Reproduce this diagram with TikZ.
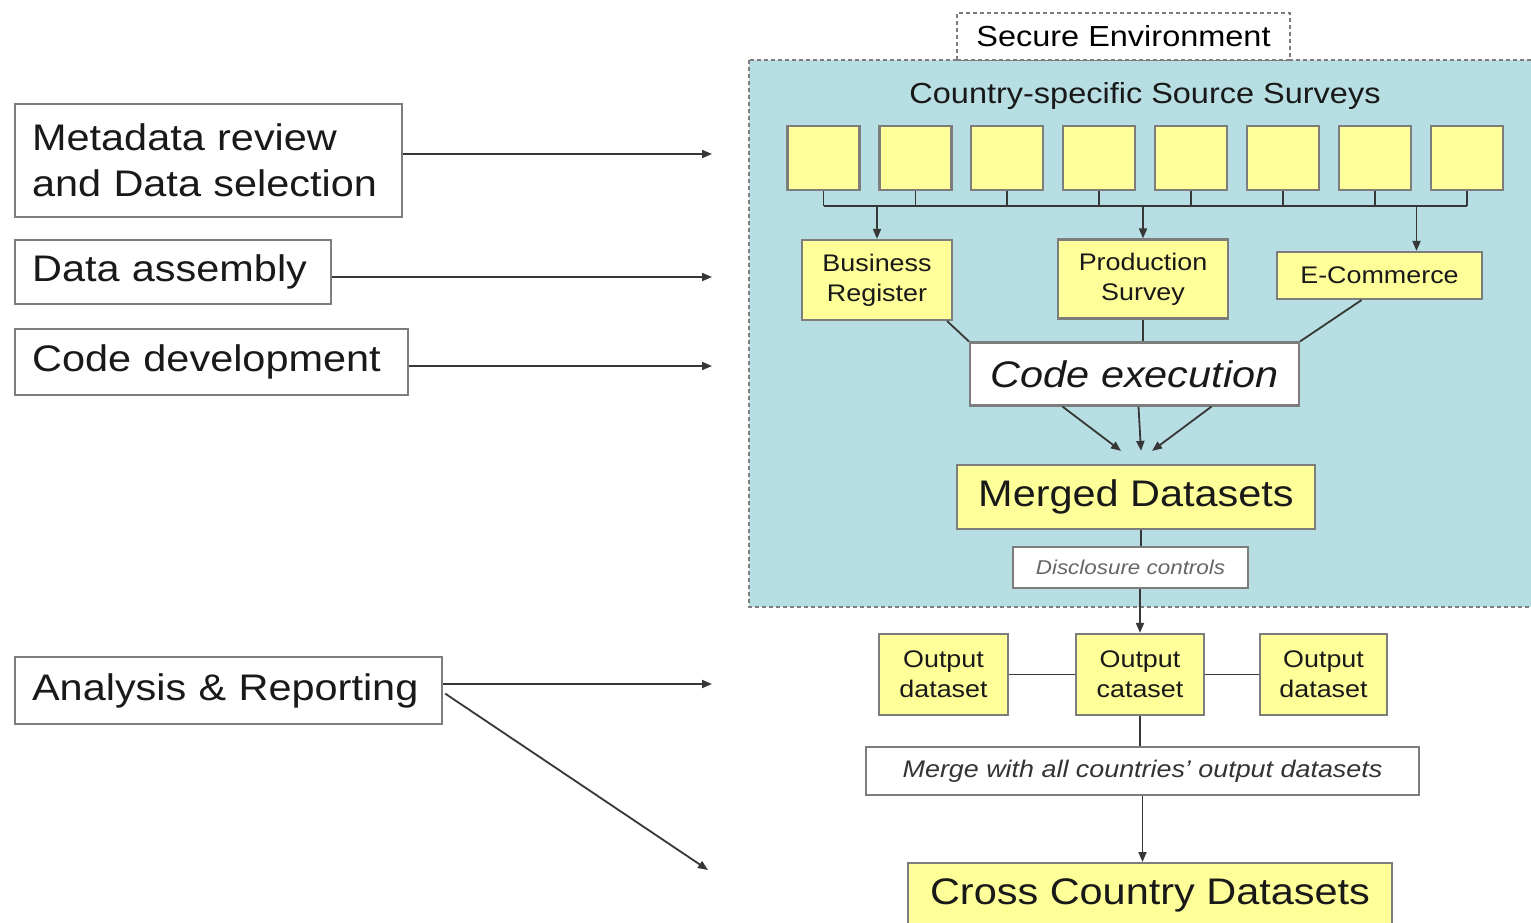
\documentclass[tikz,border=0pt]{standalone}
\usepackage{fontspec}
\setmainfont{Liberation Sans}[FakeStretch=1.12]
\usetikzlibrary{calc,arrows.meta}
\definecolor{envteal}{RGB}{183,222,226}
\definecolor{boxyellow}{RGB}{255,255,153}
\definecolor{boxgray}{RGB}{125,125,125}
\definecolor{wiregray}{RGB}{55,55,55}
\definecolor{txtdark}{RGB}{25,25,25}
\newcommand\sizeL{\fontsize{37}{46}\selectfont}
\newcommand\sizeT{\fontsize{29}{34}\selectfont}
\newcommand\sizeM{\fontsize{24}{30}\selectfont}
\newcommand\sizeS{\fontsize{20}{24}\selectfont}
\tikzset{
	phasebox/.style={draw=boxgray, line width=2.2pt, fill=white, anchor=north west, inner xsep=17pt, align=left, text=txtdark, font=\sizeL},
	srcbox/.style={draw=boxgray, line width=2.2pt, fill=boxyellow, minimum width=72pt, minimum height=64pt},
	yelbox/.style={draw=boxgray, line width=2.2pt, fill=boxyellow, inner sep=0pt, align=center, text=txtdark},
	whitebox/.style={draw=boxgray, line width=2.2pt, fill=white, inner sep=0pt, align=center, text=txtdark},
	wire/.style={draw=wiregray, line width=1.8pt},
	arr/.style={wire, -{Triangle[length=10pt,width=8pt]}},
	envdash/.style={draw=boxgray, line width=1.6pt, dash pattern=on 4pt off 3pt}
}

\begin{document}
\begin{tikzpicture}[x=1pt,y=-1pt]
	%%%%% START %%%%%
	\useasboundingbox[fill=white] (0,0) rectangle (1531,923);
	
	% secure environment
	\draw[envdash, fill=envteal] (749,60) rectangle (1545,607);
	\node[envdash, fill=white, minimum width=333pt, minimum height=47pt, inner sep=0pt, font=\sizeT] (secenv) at (1123.5,36.5) {Secure Environment};
	\node[text=txtdark, font=\sizeT] (cstitle) at (1145,96) {Country-specific Source Surveys};
	
	% source surveys
	\foreach \i in {0,...,7}
		\node[srcbox] (src\i) at ({823.5+91.9*\i},158) {};
	\coordinate (bus) at (823,206);
	\foreach \i in {0,...,7}
		\draw[wire] (src\i.south) -- (src\i.south |- bus);
	\draw[wire] (src0.south |- bus) -- (src7.south |- bus);
	
	\node[yelbox, minimum width=150pt, minimum height=80pt, font=\sizeM] (busreg) at (877,280) {Business\\Register};
	\node[yelbox, minimum width=170pt, minimum height=79pt, font=\sizeM] (prodsv) at (1143,279) {Production\\Survey};
	\node[yelbox, minimum width=205pt, minimum height=47pt, font=\sizeM] (ecomm) at (1379.5,275.5) {E-Commerce};
	\coordinate (ecomin) at ($(ecomm.north)+(37,0)$);
	\draw[arr] (busreg.north |- bus) -- (busreg.north);
	\draw[arr] (prodsv.north |- bus) -- (prodsv.north);
	\draw[arr] (ecomin |- bus) -- (ecomin);
	
	% code execution
	\node[whitebox, minimum width=329pt, minimum height=63pt, font=\sizeL\itshape] (codex) at (1134.5,374) {Code execution};
	\coordinate (brout) at ($(busreg.south east)+(-6,0)$);
	\coordinate (ecout) at ($(ecomm.south)+(-18,0)$);
	\draw[wire] (brout) -- (codex.north west);
	\draw[wire] (prodsv.south) -- (prodsv.south |- codex.north);
	\draw[wire] (ecout) -- (codex.north east);
	
	\node[yelbox, minimum width=358pt, minimum height=64pt, font=\sizeL] (merged) at (1136,497) {Merged Datasets};
	\draw[arr] ($(codex.south)+(-72,0)$) -- ($(merged.north)+(-15,-13)$);
	\draw[arr] ($(codex.south)+(4,0)$) -- ($(merged.north)+(5,-13)$);
	\draw[arr] ($(codex.south)+(77,0)$) -- ($(merged.north)+(16,-13)$);
	
	\node[whitebox, minimum width=235pt, minimum height=41pt, font=\sizeS\itshape, text=black!60] (discl) at (1130.5,567.5) {Disclosure controls};
	\coordinate (mgout) at ($(merged.south)+(5,0)$);
	\draw[wire] (mgout) -- (mgout |- discl.north);
	
	% outputs
	\node[yelbox, minimum width=129pt, minimum height=81pt, font=\sizeM] (outa) at (943.5,674.5) {Output\\dataset};
	\node[yelbox, minimum width=128pt, minimum height=81pt, font=\sizeM] (outc) at (1140,674.5) {Output\\cataset};
	\node[yelbox, minimum width=127pt, minimum height=81pt, font=\sizeM] (outb) at (1323.5,674.5) {Output\\dataset};
	\draw[arr] (outc.north |- discl.south) -- (outc.north);
	\draw[wire] (outa.east) -- (outc.west);
	\draw[wire] (outc.east) -- (outb.west);
	
	\node[whitebox, minimum width=553pt, minimum height=48pt, font=\sizeM\itshape, text=black!80] (mergeall) at (1142.5,771) {Merge with all countries' output datasets};
	\draw[wire] (outc.south) -- (outc.south |- mergeall.north);
	
	\node[yelbox, minimum width=484pt, minimum height=64pt, anchor=north, font=\sizeL] (cross) at (1150,862) {Cross Country Datasets};
	\draw[arr] (mergeall.south) -- (mergeall.south |- cross.north);
	
	% phases
	\node[phasebox, minimum width=387pt, minimum height=113pt, text width=353pt] (meta) at (14,103) {Metadata review\\and Data selection};
	\node[phasebox, minimum width=316pt, minimum height=64pt, text width=282pt] (assem) at (14,239) {Data assembly};
	\node[phasebox, minimum width=393pt, minimum height=66pt, text width=359pt] (codev) at (14,328) {Code development};
	\node[phasebox, minimum width=427pt, minimum height=67pt, text width=393pt] (analy) at (14,656) {Analysis \& Reporting};
	
	\coordinate (metaend) at (712,154);
	\coordinate (assemend) at (712,277);
	\coordinate (codevend) at (712,366);
	\coordinate (analyend) at (712,684);
	\coordinate (crossend) at (708,870);
	\coordinate (analyout) at ($(analy.east)+(2,3)$);
	\draw[arr] (meta.east |- metaend) -- (metaend);
	\draw[arr] (assem.east |- assemend) -- (assemend);
	\draw[arr] (codev.east |- codevend) -- (codevend);
	\draw[arr] (analy.east |- analyend) -- (analyend);
	\draw[arr] (analyout) -- (crossend);
	
	%%%%% END %%%%%
\end{tikzpicture}
\end{document}
